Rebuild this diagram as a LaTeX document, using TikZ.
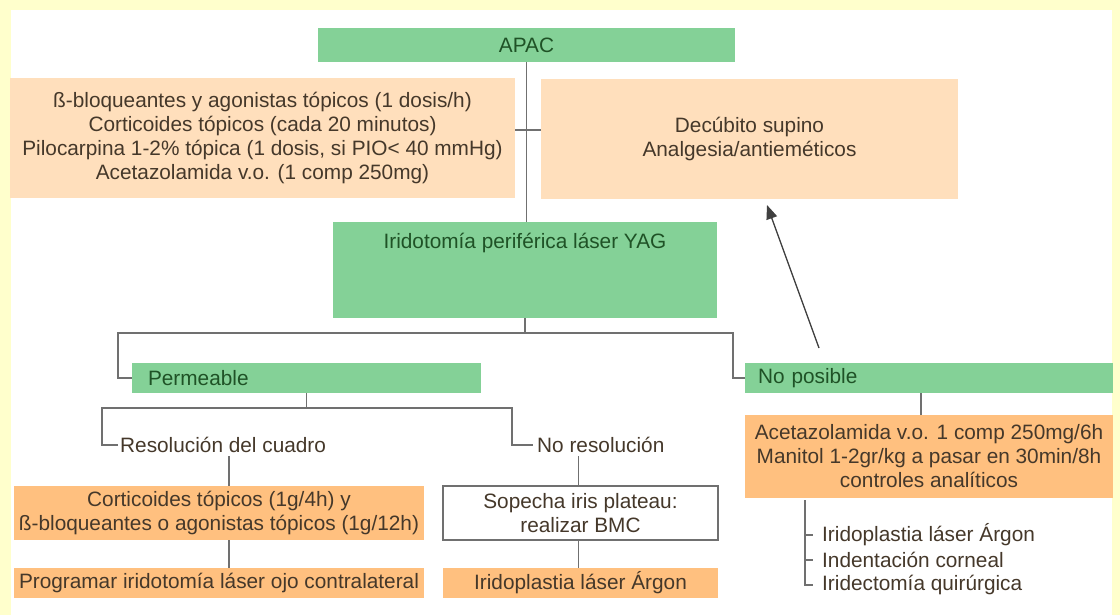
\documentclass[tikz,border=0pt]{standalone}
\usepackage{fontspec}
\setmainfont{Liberation Sans}
\usetikzlibrary{arrows.meta}
\definecolor{paper}{HTML}{FFFFCC}
\definecolor{leaf}{HTML}{84D197}
\definecolor{peach}{HTML}{FFDFBC}
\definecolor{apricot}{HTML}{FFC07F}
\definecolor{ink}{HTML}{45382A}
\definecolor{forest}{HTML}{1F5226}
\definecolor{wire}{HTML}{707070}
\tikzset{
  greenbox/.style={fill=leaf,text=forest,inner sep=0pt},
  peachbox/.style={fill=peach,text=ink,align=center,inner sep=0pt},
  orangebox/.style={fill=apricot,text=ink,align=center,inner sep=0pt},
  plainbox/.style={draw=wire,line width=1.4pt,fill=white,text=ink,align=center,inner sep=0pt},
  branchtext/.style={text=ink,anchor=west,inner xsep=0pt},
  link/.style={draw=wire,line width=1.6pt}
}

\begin{document}
\begin{tikzpicture}[x=1pt,y=-1pt,font=\fontsize{20.8}{24}\selectfont]
    \useasboundingbox (0,0) rectangle (1120,615);
    \fill[paper] (0,0) rectangle (1120,615);
    \fill[white] (11,10) rectangle (1112,615);

    \node[greenbox,minimum width=417pt,minimum height=34pt] (apac) at (526.5,45) {APAC};
    \node[peachbox,minimum width=505pt,minimum height=120pt] (drops) at (262.5,138)
      {ß-bloqueantes y agonistas tópicos (1 dosis/h)\\Corticoides tópicos (cada 20 minutos)\\Pilocarpina 1-2\% tópica (1 dosis, si PIO< 40 mmHg)\\Acetazolamida v.o. (1 comp 250mg)};
    \node[peachbox,minimum width=417pt,minimum height=120pt] (supino) at (749.5,139)
      {Decúbito supino\\Analgesia/antieméticos};
    \node[greenbox,minimum width=384pt,minimum height=96pt,
      label={[anchor=north,text=forest,yshift=-8pt]north:Iridotomía periférica láser YAG}] (yag) at (525,270) {};
    \node[greenbox,text width=317pt,inner xsep=16pt,minimum height=30pt,align=left] (perm) at (306.5,378) {Permeable};
    \node[greenbox,text width=342pt,inner xsep=13pt,minimum height=30pt,align=left] (nopos) at (929,378) {No posible};
    \node[branchtext] (resol) at (120,445) {Resolución del cuadro};
    \node[branchtext] (nores) at (537,445) {No resolución};
    \node[orangebox,minimum width=410pt,minimum height=54pt] (corti) at (219,513)
      {Corticoides tópicos (1g/4h) y\\ß-bloqueantes o agonistas tópicos (1g/12h)};
    \node[orangebox,minimum width=410pt,minimum height=30pt] (progr) at (219,583)
      {Programar iridotomía láser ojo contralateral};
    \node[plainbox,minimum width=275pt,minimum height=54pt] (sopecha) at (580.5,513)
      {Sopecha iris plateau:\\realizar BMC};
    \node[orangebox,minimum width=275pt,minimum height=30pt] (argon) at (580.5,583)
      {Iridoplastia láser Árgon};
    \node[orangebox,minimum width=368pt,minimum height=83pt] (aceta) at (929,456.5)
      {Acetazolamida v.o. 1 comp 250mg/6h\\Manitol 1-2gr/kg a pasar en 30min/8h\\controles analíticos};
    \node[branchtext] (opt1) at (822,535) {Iridoplastia láser Árgon};
    \node[branchtext] (opt2) at (822,560) {Indentación corneal};
    \node[branchtext] (opt3) at (822,585) {Iridectomía quirúrgica};

    \coordinate (forkL) at (118,333);
    \coordinate (forkR) at (733,333);
    \coordinate (permL) at (102,408);
    \coordinate (permR) at (512,408);
    \coordinate (brk) at (805,500);
    \coordinate (arrtail) at (819,348);
    \coordinate (arrhead) at (767,205);

    \draw[link] (apac.south) -- (apac.south |- yag.north);
    \draw[link] ([yshift=8pt]drops.east) -- ([yshift=8pt]drops.east -| supino.west);
    \draw[link] (yag.south) -- (yag.south |- forkL);
    \draw[link] (perm.west) -| (forkL) -- (forkR) |- (nopos.west);
    \draw[link] (perm.south) -- (perm.south |- permL);
    \draw[link] ([xshift=-2pt]resol.west) -| (permL) -- (permR) |- ([xshift=-4pt]nores.west);
    \draw[link] ([xshift=109pt]resol.south west) -- ([xshift=109pt]resol.south west |- corti.north);
    \draw[link] ([xshift=10pt]corti.south) -- ([xshift=10pt]progr.north);
    \draw[link] ([xshift=-2pt]sopecha.north |- nores.south) -- ([xshift=-2pt]sopecha.north);
    \draw[link] ([xshift=-2pt]sopecha.south) -- ([xshift=-2pt]argon.north);
    \draw[link] ([xshift=-8pt]nopos.south) -- ([xshift=-8pt]aceta.north);
    \draw[link] (brk) |- ([xshift=-9pt]opt3.west);
    \draw[link] (brk |- opt1.west) -- ([xshift=-9pt]opt1.west);
    \draw[link] (brk |- opt2.west) -- ([xshift=-9pt]opt2.west);
    \draw[link,draw=black!75,line width=1.3pt,-{Triangle[length=14pt,width=11pt]}] (arrtail) -- (arrhead);
  \end{tikzpicture}
\end{document}
